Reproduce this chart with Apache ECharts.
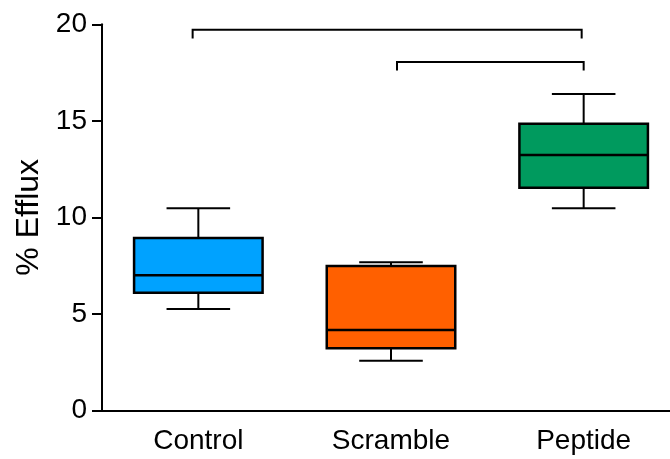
<!DOCTYPE html>
<html><head><meta charset="utf-8">
<script src="https://cdn.jsdelivr.net/npm/echarts@6/dist/echarts.min.js"></script>
<style>html,body{margin:0;padding:0;background:#fff}#c{width:670px;height:459px}</style>
</head><body><div id="c"></div>
<script>
const categories = ['Control', 'Scramble', 'Peptide'];
const whiskerMin = [5.25, 2.57, 10.47];
const q1 = [6.09, 3.21, 11.53];
const median = [7.0, 4.16, 13.23];
const q3 = [8.93, 7.48, 14.85];
const whiskerMax = [10.47, 7.67, 16.39];
const boxColors = ['#00A2FF', '#FF6000', '#009A5E'];
const yTicks = [0, 5, 10, 15, 20];
const bracketFrom = [0, 1];
const bracketTo = [2, 2];
const bracketY = [19.72, 18.05];
const bracketDrop = 0.45;

const FONT = "'Liberation Sans', Arial, sans-serif";
const bracketNudge = [[-5.7, -2], [6, 0]];

const chart = echarts.init(document.getElementById('c'), null, {renderer: 'canvas'});
const boxData = categories.map((c, i) => [i, whiskerMin[i], q1[i], median[i], q3[i], whiskerMax[i]]);
const bracketData = bracketFrom.map((f, i) => [f, bracketTo[i], bracketY[i]]);

chart.setOption({
  animation: false,
  backgroundColor: '#fff',
  grid: {left: 102, top: 24.3, width: 578, height: 386, containLabel: false, outerBoundsMode: 'none'},
  xAxis: {
    type: 'category',
    data: categories,
    axisLine: {lineStyle: {color: '#000', width: 2}},
    axisTick: {alignWithLabel: true, length: 11, lineStyle: {color: '#000', width: 2}},
    axisLabel: {color: '#000', fontSize: 28, fontFamily: FONT, margin: 17}
  },
  yAxis: {
    type: 'value',
    min: yTicks[0], max: yTicks[yTicks.length - 1], interval: 5,
    name: '% Efflux',
    nameLocation: 'middle',
    nameGap: 55,
    nameRotate: 90,
    nameTextStyle: {color: '#000', fontSize: 32, fontFamily: FONT},
    axisLine: {show: true, lineStyle: {color: '#000', width: 2}},
    axisTick: {show: true, length: 10, lineStyle: {color: '#000', width: 2}},
    axisLabel: {color: '#000', fontSize: 28, fontFamily: FONT, margin: 15},
    splitLine: {show: false}
  },
  series: [
    {
      type: 'custom',
      data: boxData,
      encode: {x: 0, y: [1, 2, 3, 4, 5]},
      renderItem: function (params, api) {
        const i = api.value(0);
        const band = api.size([1, 0])[0];
        const xc = api.coord([i, 0])[0];
        const bw = band * 0.667, cw = band * 0.33;
        const yMin = api.coord([i, api.value(1)])[1];
        const yQ1 = api.coord([i, api.value(2)])[1];
        const yMed = api.coord([i, api.value(3)])[1];
        const yQ3 = api.coord([i, api.value(4)])[1];
        const yMax = api.coord([i, api.value(5)])[1];
        const ls = {stroke: '#000', lineWidth: 2};
        return {
          type: 'group',
          children: [
            {type: 'line', shape: {x1: xc, y1: yMax, x2: xc, y2: yQ3}, style: ls},
            {type: 'line', shape: {x1: xc, y1: yQ1, x2: xc, y2: yMin}, style: ls},
            {type: 'line', shape: {x1: xc - cw / 2, y1: yMax, x2: xc + cw / 2, y2: yMax}, style: ls},
            {type: 'line', shape: {x1: xc - cw / 2, y1: yMin, x2: xc + cw / 2, y2: yMin}, style: ls},
            {type: 'rect', shape: {x: xc - bw / 2, y: yQ3, width: bw, height: yQ1 - yQ3},
              style: {fill: boxColors[params.dataIndex], stroke: '#000', lineWidth: 2.5}},
            {type: 'line', shape: {x1: xc - bw / 2, y1: yMed, x2: xc + bw / 2, y2: yMed}, style: {stroke: '#000', lineWidth: 2.5}}
          ]
        };
      }
    },
    {
      type: 'custom',
      data: bracketData,
      encode: {x: [0, 1], y: 2},
      renderItem: function (params, api) {
        const n = bracketNudge[params.dataIndex];
        const x1 = api.coord([api.value(0), 0])[0] + n[0];
        const x2 = api.coord([api.value(1), 0])[0] + n[1];
        const y = api.coord([0, api.value(2)])[1];
        const yd = api.coord([0, api.value(2) - bracketDrop])[1];
        return {
          type: 'polyline',
          shape: {points: [[x1, yd], [x1, y], [x2, y], [x2, yd]]},
          style: {stroke: '#000', lineWidth: 2, fill: null}
        };
      }
    }
  ]
});
</script>
</body></html>
